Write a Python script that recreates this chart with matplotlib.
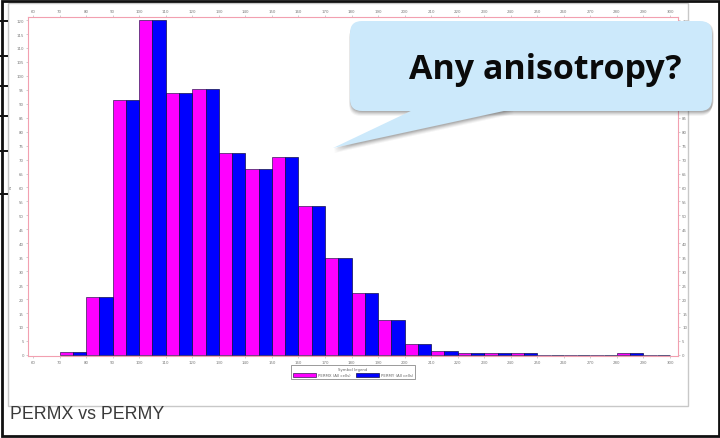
import matplotlib
matplotlib.use("Agg")
import matplotlib.pyplot as plt
from matplotlib.patches import FancyBboxPatch, Polygon, Rectangle

# Histogram of cell permeability, one pair of bars per 10-unit class
bin_start = [70, 80, 90, 100, 110, 120, 130, 140, 150, 160, 170, 180,
             190, 200, 210, 220, 230, 240, 250, 260, 270, 280, 290]
permx = [1.0, 20.7, 91.5, 120.0, 94.0, 95.4, 72.3, 66.6, 70.9, 53.4, 34.9, 22.1,
         12.4, 3.8, 1.3, 0.5, 0.5, 0.5, 0.0, 0.0, 0.0, 0.5, 0.0]
permy = [1.0, 20.7, 91.5, 120.0, 94.0, 95.4, 72.3, 66.6, 70.9, 53.4, 34.9, 22.1,
         12.4, 3.8, 1.4, 0.5, 0.5, 0.5, 0.0, 0.0, 0.0, 0.5, 0.0]
x_ticks = list(range(60, 301, 10))
y_ticks = list(range(0, 121, 5))
series_names = ["PERMX (All cells)", "PERMY (All cells)"]

W, H = 720, 439
fig = plt.figure(figsize=(W / 100, H / 100), dpi=100)


def box(x0, y0, x1, y1):
    # pixel box (top-left origin) -> figure fraction rect
    return [x0 / W, 1 - y1 / H, (x1 - x0) / W, (y1 - y0) / H]


ax = fig.add_axes(box(28, 18, 678, 357))
ax.bar(bin_start, permx, width=5, align="edge", color="#ff00ff",
       edgecolor="#3a1a5a", linewidth=0.5, label=series_names[0])
ax.bar([b + 5 for b in bin_start], permy, width=5, align="edge", color="#0000ff",
       edgecolor="#10104a", linewidth=0.5, label=series_names[1])
ax.set_xlim(58.1, 303.0)
ax.set_ylim(-0.4, 121.1)
ax.set_xticks(x_ticks)
ax.set_yticks(y_ticks)
for s in ax.spines.values():
    s.set_color("#f2a0b0")
    s.set_linewidth(0.8)
ax.tick_params(which="both", direction="out", length=1.5, width=0.4, color="#aaaaaa",
               labelsize=2.8, labelcolor="#777777", pad=1.5,
               top=True, right=True, labeltop=True, labelright=True)
ax.set_ylabel("N", fontsize=3, color="#666666", labelpad=3)

leg = ax.legend(ncol=2, fontsize=2.8, title="Symbol legend", title_fontsize=2.8,
                loc="center", bbox_to_anchor=(353 / W, 1 - 373 / H),
                bbox_transform=fig.transFigure, handlelength=6, handleheight=1.2,
                columnspacing=1.4, handletextpad=0.5, borderpad=0.4,
                fancybox=False, edgecolor="#8a8a8a", framealpha=1)
leg.get_frame().set_linewidth(0.6)
for t in leg.get_texts():
    t.set_color("#666666")
leg.get_title().set_color("#666666")

# overlay in pixel coordinates for the frames and the speech bubble
ov = fig.add_axes([0, 0, 1, 1], zorder=5)
ov.set_xlim(0, W)
ov.set_ylim(H, 0)
ov.axis("off")
ov.patch.set_alpha(0)

ov.add_patch(Rectangle((8, 4), 680, 403, fill=False, edgecolor="#c8c8c8", linewidth=1))
ov.add_patch(Rectangle((2, 2), 716.5, 435, fill=False, edgecolor="#111111", linewidth=2))
for yy in [22, 57, 87, 117, 152, 195]:
    ov.plot([0, 7], [yy, yy], color="#111111", linewidth=1.4)

ov.text(10, 415, "PERMX vs PERMY", fontsize=12.8, family="Liberation Sans",
        color="#3a3a3a", ha="left", va="center")

# speech bubble: rounded box with a tail pointing down-left
bx0, by0, bx1, by1 = 350, 22, 712, 112
tail = [(415, by1 - 2), (333, 149), (513, by1 - 2)]
for k, a in enumerate([0.05, 0.07, 0.09, 0.11, 0.13]):
    d = 5 - k
    ov.add_patch(FancyBboxPatch((bx0 - 1 + k * 0.4, by0 + d), bx1 - bx0 + 1, by1 - by0,
                                boxstyle="round,pad=0,rounding_size=12",
                                facecolor="#303030", edgecolor="none", alpha=a))
    ov.add_patch(Polygon([(x + 1, y + d) for x, y in tail], closed=True,
                         facecolor="#303030", edgecolor="none", alpha=a))
ov.add_patch(FancyBboxPatch((bx0, by0), bx1 - bx0, by1 - by0,
                            boxstyle="round,pad=0,rounding_size=12",
                            facecolor="#cce9fb", edgecolor="none"))
ov.add_patch(Polygon(tail, closed=True, facecolor="#cce9fb", edgecolor="none"))
ov.text(545, 70, "Any anisotropy?", fontsize=24.5, fontweight="bold", family="Open Sans",
        color="#0a0a0a", ha="center", va="center")

fig.savefig("out.png", dpi=100)
